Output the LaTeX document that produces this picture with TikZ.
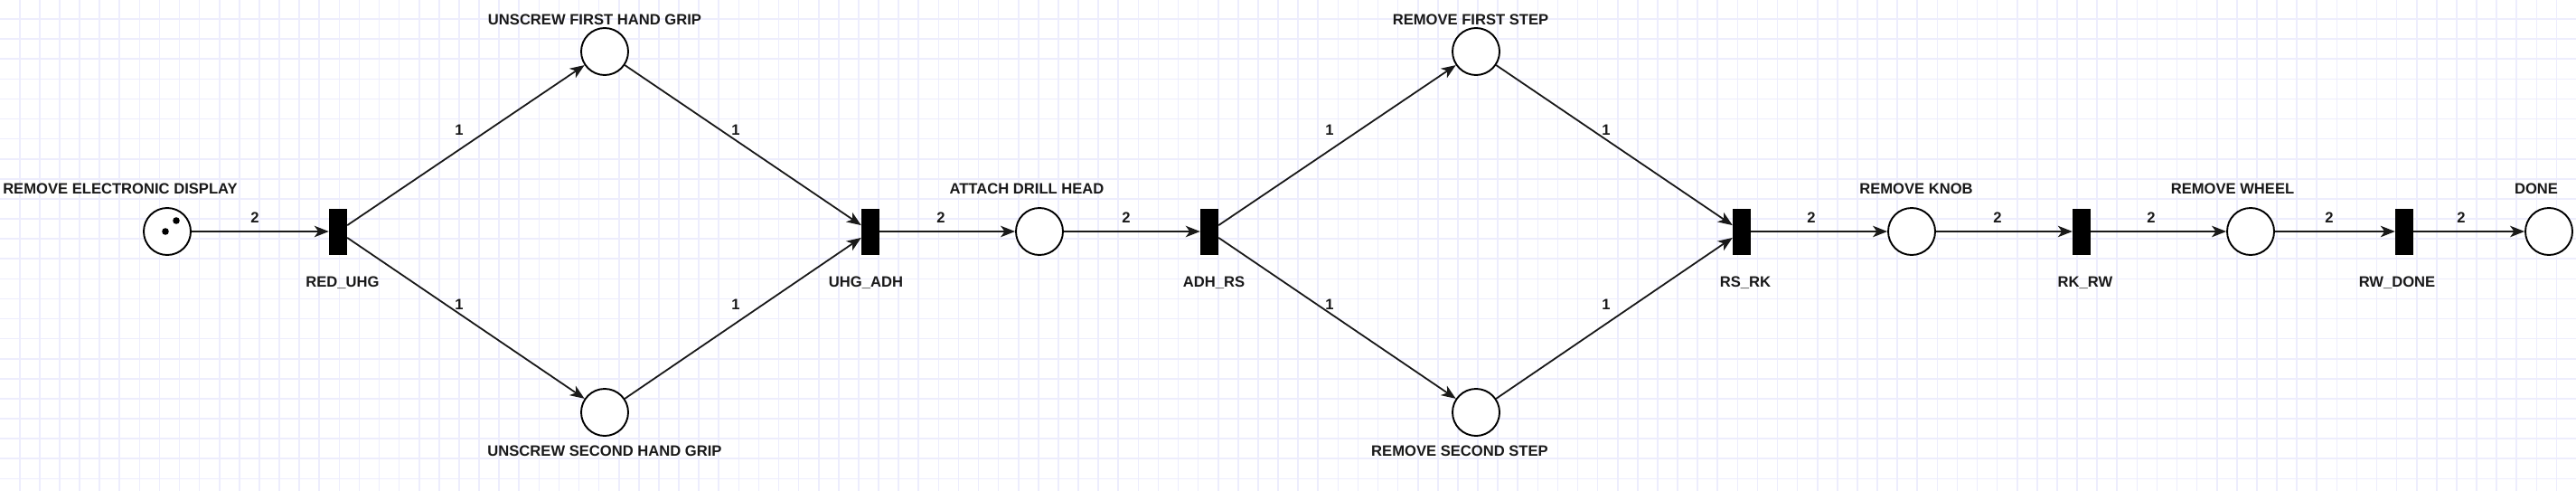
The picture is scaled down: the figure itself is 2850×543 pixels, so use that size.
\documentclass[tikz,border=0pt]{standalone}
\usepackage{fontspec}
\setmainfont{Liberation Sans}
\usetikzlibrary{arrows.meta}
\definecolor{gridc}{RGB}{237,237,253}
\begin{document}
\begin{tikzpicture}[x=1pt,y=-1pt,
  gridline/.style={draw=gridc,line width=1.6pt},
  place/.style={circle,draw=black,line width=1.9pt,fill=white,minimum size=52pt,inner sep=0pt},
  trans/.style={rectangle,fill=black,draw=none,minimum width=20pt,minimum height=51pt,inner sep=0pt},
  token/.style={circle,fill=black,draw=none,minimum size=7.6pt,inner sep=0pt},
  lbl/.style={font=\fontsize{16.6}{18}\selectfont\bfseries,inner sep=0pt,text height=11.9pt,text depth=0pt,text=black!90},
  arc/.style={draw=black!90,line width=1.8pt,-{Stealth[length=16pt,width=12.5pt,inset=4.5pt]}}]
\useasboundingbox (0,0) rectangle (2850,543);
\fill[white] (0,0) rectangle (2850,543);
% grid
\foreach \i in {0,...,128} \draw[gridline] ({21.7+\i*22.1},0) -- ({21.7+\i*22.1},543);
\foreach \j in {0,...,24} \draw[gridline] (0,{21+\j*22.1}) -- (2850,{21+\j*22.1});
% places
\node[place] (p1) at (185,256) {};
\node[place] (p2) at (669,57) {};
\node[place] (p3) at (669,456) {};
\node[place] (p4) at (1150,256) {};
\node[place] (p5) at (1633,57) {};
\node[place] (p6) at (1633,456) {};
\node[place] (p7) at (2115,256) {};
\node[place] (p8) at (2490,256) {};
\node[place] (p9) at (2820,256) {};
% tokens
\node[token] (k1) at (195,244) {};
\node[token] (k2) at (183,256) {};
% transitions
\node[trans] (t1) at (374,256) {};
\node[trans] (t2) at (963,256) {};
\node[trans] (t3) at (1338,256) {};
\node[trans] (t4) at (1927,256) {};
\node[trans] (t5) at (2303,256) {};
\node[trans] (t6) at (2660,256) {};
% arcs
\draw[arc] (p1) -- (t1);
\draw[arc] (t1) -- (p2);
\draw[arc] (t1) -- (p3);
\draw[arc] (p2) -- (t2);
\draw[arc] (p3) -- (t2);
\draw[arc] (t2) -- (p4);
\draw[arc] (p4) -- (t3);
\draw[arc] (t3) -- (p5);
\draw[arc] (t3) -- (p6);
\draw[arc] (p5) -- (t4);
\draw[arc] (p6) -- (t4);
\draw[arc] (t4) -- (p7);
\draw[arc] (p7) -- (t5);
\draw[arc] (t5) -- (p8);
\draw[arc] (p8) -- (t6);
\draw[arc] (t6) -- (p9);
% place labels
\node[lbl] (lp1) at (133,209) {REMOVE ELECTRONIC DISPLAY};
\node[lbl] (lp2) at (658,22) {UNSCREW FIRST HAND GRIP};
\node[lbl] (lp3) at (669,499) {UNSCREW SECOND HAND GRIP};
\node[lbl] (lp4) at (1136,209) {ATTACH DRILL HEAD};
\node[lbl] (lp5) at (1627,22) {REMOVE FIRST STEP};
\node[lbl] (lp6) at (1615,499) {REMOVE SECOND STEP};
\node[lbl] (lp7) at (2120,209) {REMOVE KNOB};
\node[lbl] (lp8) at (2470,209) {REMOVE WHEEL};
\node[lbl] (lp9) at (2806,209) {DONE};
% transition labels
\node[lbl] (lt1) at (379,312) {RED\_UHG};
\node[lbl] (lt2) at (958,312) {UHG\_ADH};
\node[lbl] (lt3) at (1343,312) {ADH\_RS};
\node[lbl] (lt4) at (1931,312) {RS\_RK};
\node[lbl] (lt5) at (2307,312) {RK\_RW};
\node[lbl] (lt6) at (2652,312) {RW\_DONE};
% weights
\node[lbl] (w1) at (282,241) {2};
\node[lbl] (w2) at (1041,241) {2};
\node[lbl] (w3) at (1246,241) {2};
\node[lbl] (w4) at (2004,241) {2};
\node[lbl] (w5) at (2210,241) {2};
\node[lbl] (w6) at (2380,241) {2};
\node[lbl] (w7) at (2577,241) {2};
\node[lbl] (w8) at (2723,241) {2};
\node[lbl] (w9) at (508,144) {1};
\node[lbl] (w10) at (814,144) {1};
\node[lbl] (w11) at (508,337) {1};
\node[lbl] (w12) at (814,337) {1};
\node[lbl] (w13) at (1471,144) {1};
\node[lbl] (w14) at (1777,144) {1};
\node[lbl] (w15) at (1471,337) {1};
\node[lbl] (w16) at (1777,337) {1};
\end{tikzpicture}
\end{document}
